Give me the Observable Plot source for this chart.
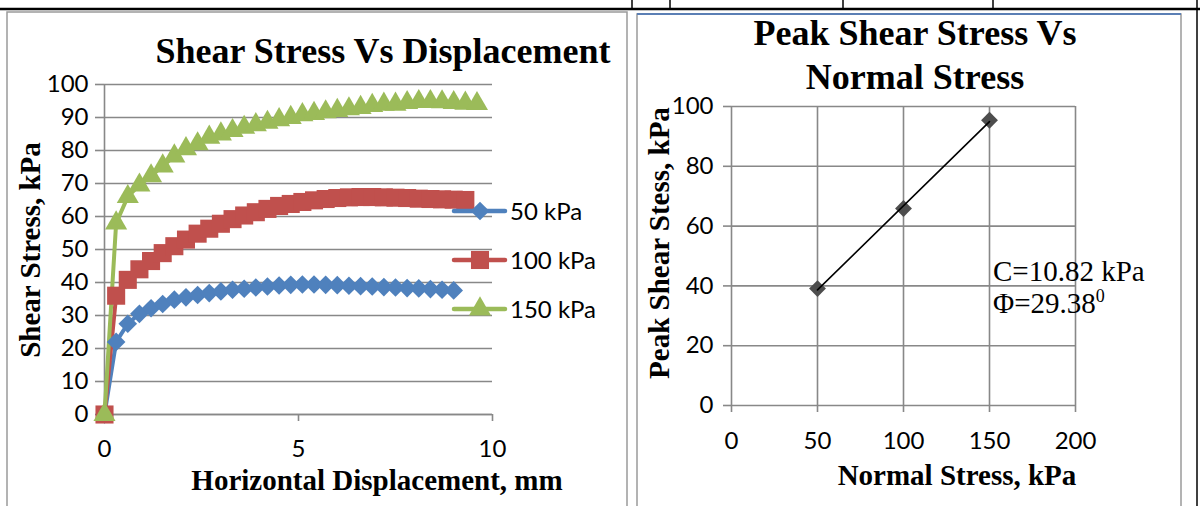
<!DOCTYPE html>
<html><head><meta charset="utf-8">
<script src="https://cdn.jsdelivr.net/npm/d3@7"></script>
<script src="https://cdn.jsdelivr.net/npm/@observablehq/plot@0.6"></script>
<style>
html,body{margin:0;padding:0;background:#fff;width:1200px;height:506px;overflow:hidden;}
#page{position:relative;width:1200px;height:506px;}
</style></head><body><div id="page"></div>
<script>
// ---------- data ----------
const displacement = [0,0.3,0.6,0.9,1.2,1.5,1.8,2.1,2.4,2.7,3.0,3.3,3.6,3.9,4.2,4.5,4.8,5.1,5.4,5.7,6.0,6.3,6.6,6.9,7.2,7.5,7.8,8.1,8.4,8.7,9.0,9.3,9.6];
const shear50  = [0,22,27.5,30.5,32.2,33.5,34.8,35.5,36.2,36.8,37.3,37.8,38.1,38.5,38.8,39.1,39.3,39.4,39.4,39.3,39.2,39.0,38.9,38.8,38.6,38.5,38.3,38.2,38.0,37.8,37.6];
const shear100 = [0,36,40.8,44,46.5,48.9,51,53,54.8,56.3,57.8,59.2,60.3,61.3,62.3,63.2,63.8,64.4,64.9,65.3,65.6,65.8,65.9,65.9,65.8,65.7,65.6,65.4,65.3,65.2,65.1,65.0];
const shear150 = [0,58,66,69.5,72.3,75.3,78.3,80.5,82,84,85,86,87,87.8,88.5,89.3,90,90.8,91.2,91.7,92.1,92.6,93.0,93.6,94.0,94.0,94.5,94.8,94.8,94.7,94.5,94.3,94.2];
const seriesNames = ["50 kPa","100 kPa","150 kPa"];
const seriesColors = ["#4F81BD","#C0504D","#9BBB59"];
const seriesSymbols = ["diamond2","square","triangle"];
const seriesR = [8.4, 10.2, 8.2];
const xTicksLeft = [0,5,10];
const yTicksLeft = [0,10,20,30,40,50,60,70,80,90,100];

const normalStress = [50,100,150];
const peakShear = [39.1,65.9,95.4];
const xTicksRight = [0,50,100,150,200];
const yTicksRight = [0,20,40,60,80,100];

// ---------- tables ----------
const seriesValues = [shear50, shear100, shear150];
const curves = seriesValues.flatMap((vals, k) =>
  vals.map((v, i) => ({x: displacement[i], y: v, series: seriesNames[k]})));
const peaks = normalStress.map((s, i) => ({x: s, y: peakShear[i]}));

const page = document.getElementById("page");
const GRID = "#888888";
const tickFont = "Lato, 'Open Sans', sans-serif";
const TF = 24;

// ---------- left chart ----------
const left = Plot.plot({
  width: 630, height: 506,
  marginLeft: 104, marginRight: 138, marginTop: 84, marginBottom: 92,
  style: {background: "transparent", fontFamily: tickFont, fontSize: TF + "px", color: "black", overflow: "visible"},
  x: {domain: [0, 10]},
  y: {domain: [0, 100]},
  color: {domain: seriesNames, range: seriesColors},
  marks: [
    Plot.gridY(yTicksLeft, {stroke: GRID, strokeOpacity: 1, strokeWidth: 1.6}),
    Plot.axisY(yTicksLeft, {tickSize: 9, tickPadding: 7, stroke: GRID, strokeWidth: 1.6, fill: "black", fontSize: TF, label: null}),
    Plot.axisX(xTicksLeft, {tickSize: 7, tickPadding: 18, stroke: GRID, strokeWidth: 1.6, fill: "black", fontSize: TF, label: null}),
    Plot.ruleX([0], {stroke: GRID, strokeWidth: 1.6}),
    Plot.ruleY([0], {stroke: GRID, strokeWidth: 1.6}),
    Plot.line(curves, {x: "x", y: "y", z: "series", stroke: "series", strokeWidth: 4}),
    ...seriesNames.map((name, k) =>
      Plot.dot(curves.filter(d => d.series === name), {x: "x", y: "y", symbol: seriesSymbols[k], r: seriesR[k], fill: seriesColors[k], stroke: "none"}))
  ]
});
left.style.position = "absolute"; left.style.left = "0px"; left.style.top = "0px";
page.appendChild(left);

// ---------- right chart ----------
const right = Plot.plot({
  width: 570, height: 506,
  marginLeft: 101, marginRight: 125, marginTop: 106, marginBottom: 101,
  style: {background: "transparent", fontFamily: tickFont, fontSize: TF + "px", color: "black", overflow: "visible"},
  x: {domain: [0, 200]},
  y: {domain: [0, 100]},
  marks: [
    Plot.gridX(xTicksRight, {stroke: GRID, strokeOpacity: 1, strokeWidth: 1.6}),
    Plot.gridY(yTicksRight, {stroke: GRID, strokeOpacity: 1, strokeWidth: 1.6}),
    Plot.axisY(yTicksRight, {tickSize: 8, tickPadding: 10, stroke: GRID, strokeWidth: 1.6, fill: "black", fontSize: TF, label: null}),
    Plot.axisX(xTicksRight, {tickSize: 7, tickPadding: 19, stroke: GRID, strokeWidth: 1.6, fill: "black", fontSize: TF, label: null}),
    Plot.dot(peaks, {x: "x", y: "y", symbol: "diamond2", r: 7.6, fill: "#4D4D4D", stroke: "none"}),
    Plot.linearRegressionY(peaks, {x: "x", y: "y", stroke: "black", strokeWidth: 1.6, ci: 0})
  ]
});
right.style.position = "absolute"; right.style.left = "630px"; right.style.top = "0px";
page.appendChild(right);

// ---------- overlay: frames, titles, labels, legend ----------
const serif = "'Liberation Serif', 'Times New Roman', serif";
const ov = d3.create("svg").attr("width", 1200).attr("height", 506)
  .style("position", "absolute").style("left", "0px").style("top", "0px").style("overflow", "visible");

ov.append("rect").attr("x", 7).attr("y", 12).attr("width", 620).attr("height", 510)
  .attr("fill", "none").attr("stroke", "#9a9a9a").attr("stroke-width", 1.5);
ov.append("rect").attr("x", 637).attr("y", 14).attr("width", 544).attr("height", 510)
  .attr("fill", "none").attr("stroke", "#9a9a9a").attr("stroke-width", 1.5);
ov.append("line").attr("x1", 637).attr("x2", 1181).attr("y1", 14).attr("y2", 14)
  .attr("stroke", "#5B7FB5").attr("stroke-width", 2);
ov.append("line").attr("x1", 0).attr("x2", 1200).attr("y1", 9).attr("y2", 9)
  .attr("stroke", "black").attr("stroke-width", 2.5);
[632, 670, 843, 993].forEach(x => ov.append("line").attr("x1", x).attr("x2", x).attr("y1", 0).attr("y2", 9)
  .attr("stroke", "black").attr("stroke-width", 1.5));
ov.append("line").attr("x1", 1197).attr("x2", 1197).attr("y1", 0).attr("y2", 506)
  .attr("stroke", "black").attr("stroke-width", 1.5);

function txt(x, y, s, size, opts = {}) {
  const t = ov.append("text").attr("x", x).attr("y", y)
    .attr("font-family", opts.family || serif).attr("font-size", size)
    .attr("font-weight", opts.weight || "bold").attr("text-anchor", opts.anchor || "middle")
    .attr("fill", "black").text(s);
  if (opts.rotate) t.attr("transform", `rotate(-90 ${x} ${y})`);
  return t;
}
txt(383, 63, "Shear Stress Vs Displacement", 36);
txt(377, 490, "Horizontal Displacement, mm", 29);
txt(40, 250, "Shear Stress, kPa", 29, {rotate: true});
txt(915, 45, "Peak Shear Stress Vs", 36);
txt(915, 89, "Normal Stress", 36);
txt(957, 485, "Normal Stress, kPa", 29);
txt(669, 243, "Peak Shear Stess, kPa", 29, {rotate: true});
txt(993, 281, "C=10.82 kPa", 29, {weight: "normal", anchor: "start"});
const phi = txt(993, 313, "Φ=29.38", 29, {weight: "normal", anchor: "start"});
phi.append("tspan").attr("dy", -11).attr("font-size", 18).text("0");

// legend
const legendY = [211, 260, 309];
seriesNames.forEach((name, k) => {
  const g = ov.append("g").attr("transform", `translate(0, ${legendY[k]})`);
  g.append("line").attr("x1", 454).attr("x2", 505).attr("y1", 0).attr("y2", 0)
    .attr("stroke", seriesColors[k]).attr("stroke-width", 4.5).attr("stroke-linecap", "round");
  const symType = [d3.symbolDiamond2, d3.symbolSquare, d3.symbolTriangle][k];
  g.append("path").attr("transform", "translate(480,0)")
    .attr("d", d3.symbol(symType, Math.PI * seriesR[k] * seriesR[k])())
    .attr("fill", seriesColors[k]);
  g.append("text").attr("x", 510).attr("y", 0).attr("dy", "0.36em")
    .attr("font-family", tickFont).attr("font-size", TF).attr("fill", "black").text(name);
});
page.appendChild(ov.node());
</script></body></html>
